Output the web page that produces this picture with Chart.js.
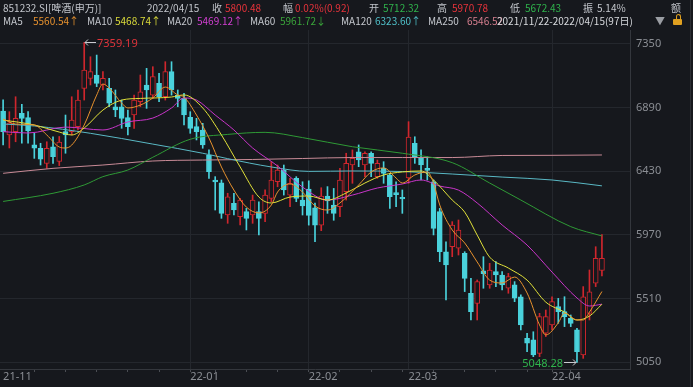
<!DOCTYPE html>
<html><head><meta charset="utf-8">
<script src="https://cdn.jsdelivr.net/npm/chart.js@4.4.1/dist/chart.umd.min.js"></script>
<style>
html,body{margin:0;padding:0;background:#16181d;overflow:hidden}
#wrap{position:relative;width:693px;height:387px;background:#16181d;font-family:"Noto Sans CJK SC","Noto Sans",sans-serif}
canvas{position:absolute;left:0;top:0}
.h{position:absolute;font-size:10px;line-height:12px;white-space:nowrap;color:#c3c6cc}
.l1{top:2px}.l2{top:15px}
.r{color:#e8333b}.g{color:#2fb34c}
.vl{position:absolute;top:0;width:1px;height:387px;background:#2a2d33}
.lock{position:absolute;left:673px;top:19px;width:9px;height:6px;background:#e0a020;border-radius:1px}
.lock:before{content:"";position:absolute;left:3px;top:-5px;width:5px;height:5px;border:1.5px solid #e0a020;border-bottom:none;border-radius:3px 3px 0 0;box-sizing:border-box}
</style></head>
<body><div id="wrap">
<canvas id="c" width="693" height="387"></canvas>
<div class="vl" style="left:690px"></div>
<div class="h l1" style="left:3px">851232.SI[啤酒(申万)]</div>
<div class="h l1" style="left:147px">2022/04/15</div>
<div class="h l1" style="left:212px">收</div>
<div class="h l1 r" style="left:225px">5800.48</div>
<div class="h l1" style="left:283px">幅</div>
<div class="h l1 r" style="left:295px">0.02%(0.92)</div>
<div class="h l1" style="left:369px">开</div>
<div class="h l1 g" style="left:383px">5712.32</div>
<div class="h l1" style="left:437px">高</div>
<div class="h l1 r" style="left:452px">5970.78</div>
<div class="h l1" style="left:510px">低</div>
<div class="h l1 g" style="left:525px">5672.43</div>
<div class="h l1" style="left:583px">振</div>
<div class="h l1" style="left:597px">5.14%</div>
<div class="h l1" style="left:671px">额</div>
<div class="h l2" style="left:3px">MA5</div>
<div class="h l2" style="left:33px;color:#e8922e">5560.54↑</div>
<div class="h l2" style="left:87px">MA10</div>
<div class="h l2" style="left:115px;color:#dcdc3a">5468.74↑</div>
<div class="h l2" style="left:167px">MA20</div>
<div class="h l2" style="left:197px;color:#d23fd2">5469.12↑</div>
<div class="h l2" style="left:250px">MA60</div>
<div class="h l2" style="left:280px;color:#3aa63a">5961.72↓</div>
<div class="h l2" style="left:341px">MA120</div>
<div class="h l2" style="left:375px;color:#4fbfc8">6323.60↑</div>
<div class="h l2" style="left:428px">MA250</div>
<div class="h l2" style="left:467px;color:#d47e8e">6546.52</div>
<div class="h l2" style="left:497px;color:#d8dade">2021/11/22-2022/04/15(97日)</div>
<div class="h l2" style="left:655px;color:#9a9da3">▼</div>
<div class="lock"></div>
</div>
<script>
const dates = [
 '2021-11-22','2021-11-23','2021-11-24','2021-11-25','2021-11-26','2021-11-29','2021-11-30',
 '2021-12-01','2021-12-02','2021-12-03','2021-12-06','2021-12-07','2021-12-08','2021-12-09','2021-12-10',
 '2021-12-13','2021-12-14','2021-12-15','2021-12-16','2021-12-17','2021-12-20','2021-12-21','2021-12-22',
 '2021-12-23','2021-12-24','2021-12-27','2021-12-28','2021-12-29','2021-12-30','2021-12-31',
 '2022-01-04','2022-01-05','2022-01-06','2022-01-07','2022-01-10','2022-01-11','2022-01-12','2022-01-13',
 '2022-01-14','2022-01-17','2022-01-18','2022-01-19','2022-01-20','2022-01-21','2022-01-24','2022-01-25',
 '2022-01-26','2022-01-27','2022-01-28',
 '2022-02-07','2022-02-08','2022-02-09','2022-02-10','2022-02-11','2022-02-14','2022-02-15','2022-02-16',
 '2022-02-17','2022-02-18','2022-02-21','2022-02-22','2022-02-23','2022-02-24','2022-02-25','2022-02-28',
 '2022-03-01','2022-03-02','2022-03-03','2022-03-04','2022-03-07','2022-03-08','2022-03-09','2022-03-10',
 '2022-03-11','2022-03-14','2022-03-15','2022-03-16','2022-03-17','2022-03-18','2022-03-21','2022-03-22',
 '2022-03-23','2022-03-24','2022-03-25','2022-03-28','2022-03-29','2022-03-30','2022-03-31',
 '2022-04-01','2022-04-06','2022-04-07','2022-04-08','2022-04-11','2022-04-12','2022-04-13','2022-04-14','2022-04-15'
];
const opens = [6864,6691,6715,6847,6816,6619,6595,6486,6606,6500,6715,6715,6751,7028,7100,7124,7052,7028,6895,6895,
 6816,6835,6931,7052,6979,7064,6967,7148,6979,6955,6819,6751,6727,6546,6366,6346,6113,6197,6101,6137,
 6113,6137,6125,6233,6353,6438,6257,6378,6221,6300,6165,6040,6250,6185,6173,6281,6474,6570,6474,6558,
 6390,6450,6402,6275,6240,6380,6631,6522,6450,6353,6137,5848,5884,5873,5836,5548,5475,5710,5608,5704,
 5680,5584,5608,5523,5223,5211,5114,5259,5319,5451,5415,5367,5283,5102,5403,5620,5712.32];
const highs = [6944,6859,6967,6912,6859,6703,6631,6642,6678,6680,6835,6967,7016,7359.19,7256,7268,7148,7100,7016,6943,
 6871,6979,7124,7172,7184,7136,7220,7220,7016,6992,6859,6811,6775,6583,6390,6366,6270,6270,6233,6161,
 6257,6209,6294,6498,6474,6474,6378,6390,6353,6360,6200,6310,6318,6305,6450,6559,6583,6619,6570,6570,
 6510,6498,6414,6353,6294,6787,6678,6583,6534,6366,6161,5920,6065,6077,5848,5656,5644,5812,5764,5776,
 5704,5692,5632,5536,5259,5270,5403,5427,5523,5511,5523,5391,5295,5596,5716,5884,5970.78];
const lows = [6619,6597,6642,6631,6631,6522,6474,6450,6486,6470,6559,6691,6727,6943,7052,7040,7016,6895,6823,6739,
 6691,6739,6895,6883,6955,6931,6943,6979,6895,6763,6703,6655,6595,6378,6149,6089,6053,6113,6041,6005,
 6053,5969,6065,6209,6317,6257,6173,6209,6113,6040,5920,6000,6125,6075,6101,6221,6342,6462,6390,6390,
 6378,6342,6161,6173,6125,6342,6486,6366,6366,5969,5776,5500,5812,5824,5560,5355,5355,5584,5584,5596,
 5572,5548,5487,5283,5126,5090,5090,5235,5283,5331,5307,5307,5048.28,5078,5355,5596,5672.43];
const closes = [6715,6777,6811,6811,6720,6595,6517,6595,6534,6640,6691,6799,6943,7160,7148,7064,7100,6920,6871,6811,
 6751,6943,7003,7016,7112,6967,7148,7016,6955,6835,6739,6715,6619,6426,6352,6125,6245,6149,6221,6089,
 6221,6089,6257,6366,6438,6294,6342,6233,6178,6110,6040,6250,6215,6125,6366,6486,6522,6510,6558,6486,
 6486,6414,6245,6260,6230,6676,6534,6474,6435,6017,5848,5752,6041,6005,5656,5415,5632,5690,5716,5680,
 5608,5668,5512,5319,5187,5102,5379,5379,5487,5415,5379,5331,5126,5523,5559,5799.56,5800.48];

// moving averages: [day index, value]
const ma5Pts = [[0,6806],[2,6770],[5,6763],[7,6691],[9,6604],[10,6597],[11,6618],[13,6763],[15,6979],[16,7059],[17,7030],
 [19,6922],[20,6886],[22,6907],[24,6958],[26,7037],[28,6980],[29,6965],[31,6835],[33,6669],[35,6460],[37,6293],[39,6170],
 [41,6128],[43,6185],[44,6279],[46,6337],[48,6279],[50,6178],[52,6149],[54,6200],[57,6330],[59,6424],[61,6453],[63,6380],
 [64,6344],[66,6402],[68,6424],[69,6344],[70,6185],[72,6005],[74,5911],[76,5774],[78,5643],[80,5622],[82,5665],[84,5550],
 [86,5319],[87,5247],[89,5334],[90,5405],[92,5355],[93,5355],[94,5412],[96,5560.54]];
const ma10Pts = [[0,6799],[5,6763],[9,6712],[11,6691],[13,6741],[16,6871],[19,6943],[22,6955],[27,6965],[29,6980],[32,6886],
 [35,6691],[38,6460],[41,6243],[43,6200],[46,6243],[49,6250],[52,6221],[55,6272],[58,6344],[61,6402],[64,6424],[67,6431],
 [69,6366],[72,6221],[74,6134],[76,5968],[78,5809],[81,5730],[84,5643],[87,5484],[90,5412],[92,5355],[94,5383],[96,5468.74]];
const ma20Pts = [[0,6715],[4,6705],[10,6748],[16,6727],[20,6785],[24,6813],[27,6886],[29,6958],[31,6943],[34,6835],[37,6727],
 [40,6597],[44,6467],[48,6315],[52,6221],[56,6257],[60,6308],[64,6337],[67,6366],[70,6322],[73,6293],[76,6200],[80,6041],
 [84,5896],[88,5701],[92,5514],[94,5456],[96,5469.12]];
const ma60Pts = [[0,6211],[8,6270],[13,6330],[16,6390],[20,6438],[24,6530],[30,6660],[36,6695],[42,6710],[48,6672],[56,6606],
 [64,6559],[72,6491],[78,6344],[83,6221],[91,6029],[96,5961.72]];
const ma120Pts = [[0,6770],[5,6756],[14,6703],[24,6625],[32,6559],[36,6520],[43,6460],[49,6428],[56,6431],[64,6427],[72,6409],
 [80,6387],[88,6366],[96,6323.6]];
const ma250Pts = [[0,6414],[8,6450],[16,6474],[24,6503],[32,6510],[40,6514],[48,6521],[56,6528],[64,6528],[72,6528],[80,6543],
 [88,6544],[96,6546.5]];

const yTicks = [5050,5510,5970,6430,6890,7350];
const xTickIdx = [0,30,49,65,88];
const xTickText = ['21-11','22-01','22-02','22-03','22-04'];
const monthLineIdx = [30,49,65,88];
const weekTickIdx = [5,10,15,20,25,30,34,39,44,49,54,59,64,69,74,79,84,88,91];

const BG = '#16181d', RED = '#d0262d', CYAN = '#4ad2dc', AXIS = '#8b8e94', GRID = '#24272d';
const EXTRA_SLOTS = 4;
const labels = dates.concat(Array(EXTRA_SLOTS).fill(''));
const N = labels.length;

function series(pts){ const a = Array(N).fill(null); pts.forEach(([i,v]) => a[i] = v); return a; }
const up = closes.map((c,i) => c >= opens[i]);

function maLine(label, pts, color){
  return {type:'line', label, data: series(pts), borderColor: color, borderWidth: 1, pointRadius: 0,
    spanGaps: true, cubicInterpolationMode: 'monotone', order: 0};
}

const extremes = {
  id: 'extremes',
  afterDatasetsDraw(chart){
    const {ctx, scales:{x, y}} = chart;
    const hi = Math.max(...highs), hiI = highs.indexOf(hi);
    const lo = Math.min(...lows), loI = lows.indexOf(lo);
    ctx.save();
    ctx.font = '11px "Noto Sans", sans-serif';
    ctx.textBaseline = 'middle';
    ctx.strokeStyle = '#c9cbd0'; ctx.lineWidth = 1;
    let px = Math.round(x.getPixelForValue(hiI)), py = Math.round(y.getPixelForValue(hi)) + 0.5;
    ctx.beginPath();
    ctx.moveTo(px + 1, py); ctx.lineTo(px + 12, py);
    ctx.moveTo(px + 4, py - 3); ctx.lineTo(px + 1, py); ctx.lineTo(px + 4, py + 3);
    ctx.stroke();
    ctx.fillStyle = '#e0333a'; ctx.textAlign = 'left';
    ctx.fillText(hi.toFixed(2), px + 13, py + 1);
    px = Math.round(x.getPixelForValue(loI)); py = Math.round(y.getPixelForValue(lo)) + 0.5;
    ctx.beginPath();
    ctx.moveTo(px - 1, py); ctx.lineTo(px - 13, py);
    ctx.moveTo(px - 4, py - 3); ctx.lineTo(px - 1, py); ctx.lineTo(px - 4, py + 3);
    ctx.stroke();
    ctx.fillStyle = '#2fb34c'; ctx.textAlign = 'right';
    ctx.fillText(lo.toFixed(2), px - 14, py + 1);
    ctx.restore();
  }
};

new Chart(document.getElementById('c'), {
  type: 'bar',
  data: {
    labels,
    datasets: [
      maLine('MA5', ma5Pts, '#e8922e'),
      maLine('MA10', ma10Pts, '#e2e23a'),
      maLine('MA20', ma20Pts, '#c935c9'),
      maLine('MA60', ma60Pts, '#2f9a36'),
      maLine('MA120', ma120Pts, '#5ab9c5'),
      maLine('MA250', ma250Pts, '#c98b97'),
      {type:'bar', label:'body', data: opens.map((o,i) => [o, closes[i]]), grouped:false, order:1,
       barThickness:5, minBarLength:1, borderSkipped:false, borderWidth:1,
       backgroundColor: up.map(u => u ? BG : CYAN), borderColor: up.map(u => u ? RED : CYAN)},
      {type:'bar', label:'wick', data: lows.map((l,i) => [l, highs[i]]), grouped:false, order:2,
       barThickness:1, borderWidth:0, backgroundColor: up.map(u => u ? RED : CYAN)}
    ]
  },
  options: {
    responsive:false, animation:false, events:[],
    layout:{padding:{top:30, right:3, left:0, bottom:0}},
    plugins:{legend:{display:false}, tooltip:{enabled:false}},
    scales:{
      x:{
        type:'category', offset:true,
        grid:{offset:false, drawTicks:true, tickLength:3, lineWidth:1,
          color: c => monthLineIdx.includes(c.index) ? GRID : 'rgba(0,0,0,0)',
          tickColor: c => weekTickIdx.includes(c.index) ? '#4a4d53' : 'rgba(0,0,0,0)'},
        border:{display:true, color:'#34373d'},
        ticks:{autoSkip:false, maxRotation:0, minRotation:0, align:'start', padding:-2, color:AXIS,
          font:{family:'"Noto Sans", sans-serif', size:11},
          callback:(v, i) => { const k = xTickIdx.indexOf(i); return k >= 0 ? xTickText[k] : ''; }},
        afterFit: s => { s.height = 18; }
      },
      y:{
        position:'right', min:5001, max:7449,
        afterBuildTicks: s => { s.ticks = yTicks.map(v => ({value:v})); },
        grid:{color:GRID, drawTicks:false},
        border:{display:true, color:'#34373d'},
        ticks:{padding:6, color:AXIS, font:{family:'"Noto Sans", sans-serif', size:11},
          callback: v => String(v)},
        afterFit: s => { s.width = 60; }
      }
    }
  },
  plugins:[extremes]
});
</script>
</body></html>
